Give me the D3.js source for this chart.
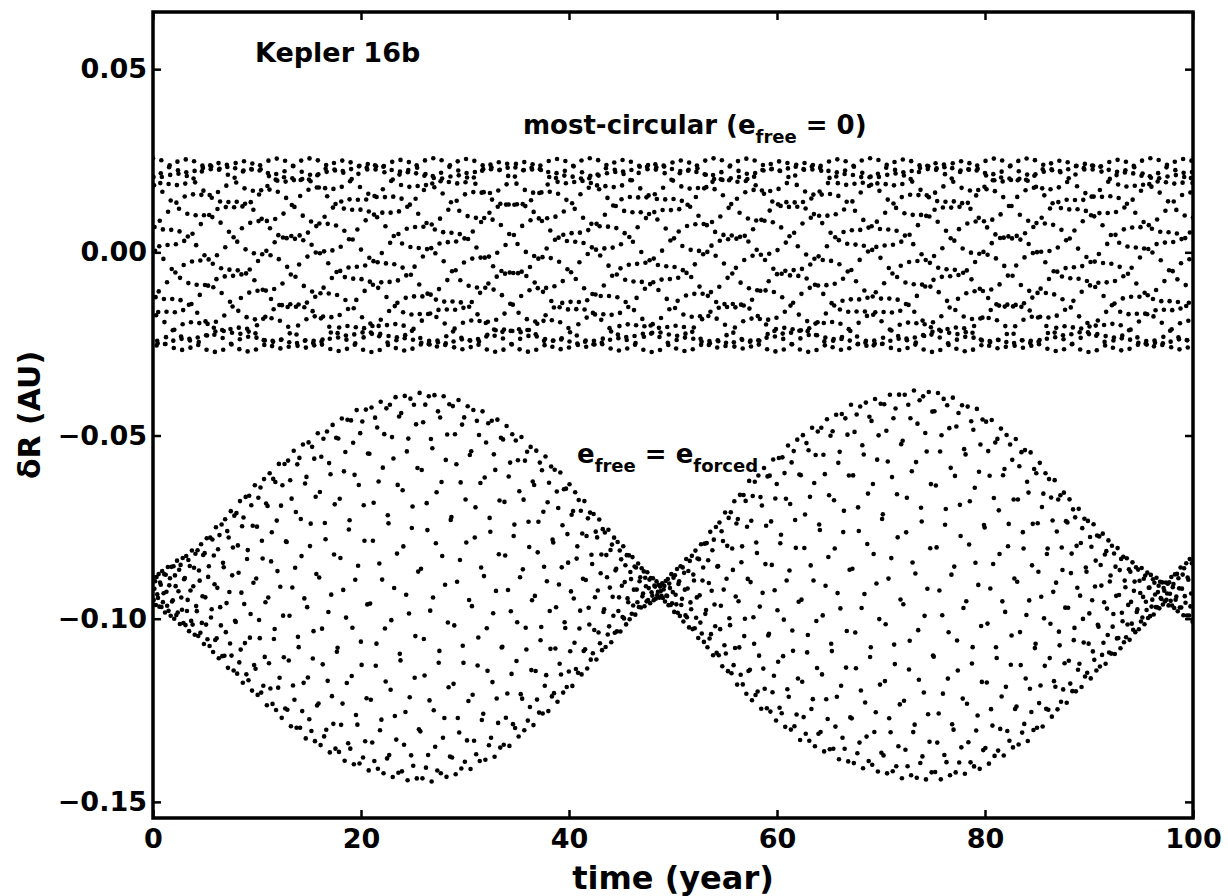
<!DOCTYPE html>
<html>
<head>
<meta charset="utf-8">
<script src="https://cdn.jsdelivr.net/npm/d3@7"></script>
<style>
  body { margin: 0; background: #fff; }
  text { font-family: "DejaVu Sans", sans-serif; font-weight: bold; fill: #000; }
  .tick-label { font-size: 27px; }
  .note { font-size: 26px; }
</style>
</head>
<body>
<div class="graphic"></div>
<script>
// axis ticks
const xTicks = [0, 20, 40, 60, 80, 100];
const yTicks = [-0.15, -0.10, -0.05, 0.00, 0.05];
const yTickLabels = ["\u22120.15", "\u22120.10", "\u22120.05", "0.00", "0.05"];

// sampling of the integration output (years)
const circStep = 0.05;
const forcedStep = 0.068;
const sampleEnd = 100;

// e_free = e_forced: envelope (AU)
const envTime  = [0, 4.5, 9.3, 14.1, 19, 23.75, 26.6, 29.5, 33.4, 38.2, 43, 46.8, 48.8,
                  52.6, 57.4, 62.2, 67, 71.8, 73.5, 75.7, 79.5, 84.3, 89.1, 93.9, 97.3, 100];
const envUpper = [-0.0886, -0.0799, -0.0648, -0.0526, -0.0436, -0.0389, -0.0381, -0.0403, -0.0458, -0.0567, -0.0731, -0.0853, -0.0908,
                  -0.0799, -0.0621, -0.0498, -0.0417, -0.0381, -0.0376, -0.0381, -0.0430, -0.0540, -0.0703, -0.0840, -0.0903, -0.0826];
const envLower = [-0.0957, -0.1058, -0.1194, -0.1317, -0.1399, -0.1440, -0.1446, -0.1425, -0.1370, -0.1250, -0.1100, -0.0975, -0.0941,
                  -0.1058, -0.1222, -0.1331, -0.1399, -0.1435, -0.1440, -0.1440, -0.1413, -0.1331, -0.1194, -0.1058, -0.0957, -0.1009];

// most-circular: band limits (AU)
const circTop = 0.0257;
const circBottom = -0.0272;
const circStrands = 16;     // strands seen in the band
const circDrift = 85;       // years for one strand to sweep the band
const circWiggle = 0.0016;  // small ripple on each strand (AU)
const circWigglePeriod = 6; // years

const width = 1228, height = 896;
const margin = {top: 12, right: 35, bottom: 78, left: 153};

const svg = d3.select(".graphic").append("svg")
    .attr("width", width)
    .attr("height", height);

const x = d3.scaleLinear().domain([0, 100]).range([margin.left, width - margin.right]);
const y = d3.scaleLinear().domain([-0.1544, 0.0656]).range([height - margin.bottom, margin.top]);

// build the two runs
let upperEnv = d3.scaleLinear().domain(envTime).range(envUpper);
let lowerEnv = d3.scaleLinear().domain(envTime).range(envLower);

let forced = d3.range(0, sampleEnd + 1e-9, forcedStep).map(function(t, n) {
    let mid = (upperEnv(t) + lowerEnv(t)) / 2;
    let half = (upperEnv(t) - lowerEnv(t)) / 2;
    let phase = 2 * Math.PI * n * 0.381966;
    return {t: t, v: mid + half * Math.cos(phase)};
});

let circular = d3.range(0, sampleEnd + 1e-9, circStep).map(function(t, n) {
    let mid = (circTop + circBottom) / 2;
    let half = (circTop - circBottom) / 2 - circWiggle;
    let a = 2 * Math.PI * n * (1 / circStrands + circStep / circDrift);
    let b = 2 * Math.PI * n * (0.5 + circStep / circWigglePeriod);
    return {t: t, v: mid + half * Math.cos(a) + circWiggle * Math.cos(b)};
});

svg.append("defs").append("clipPath").attr("id", "plot-clip")
  .append("rect")
    .attr("x", x(0)).attr("y", y.range()[1])
    .attr("width", x(100) - x(0)).attr("height", y.range()[0] - y.range()[1]);

let dots = svg.append("g").attr("clip-path", "url(#plot-clip)");

dots.selectAll("circle.circ")
    .data(circular)
    .enter().append("circle")
    .attr("class", "circ")
    .attr("cx", d => x(d.t))
    .attr("cy", d => y(d.v))
    .attr("r", 2.3)
    .attr("fill", "#000");

dots.selectAll("circle.forced")
    .data(forced)
    .enter().append("circle")
    .attr("class", "forced")
    .attr("cx", d => x(d.t))
    .attr("cy", d => y(d.v))
    .attr("r", 2.3)
    .attr("fill", "#000");

// axes, ticks point inward on all four sides
let tickLen = 8;
let x0 = x.range()[0], x1 = x.range()[1];
let y0 = y.range()[0], y1 = y.range()[1];

let xAxisB = d3.axisBottom(x).tickValues(xTicks).tickSize(-tickLen).tickPadding(11).tickFormat(d3.format("d"));
let xAxisT = d3.axisTop(x).tickValues(xTicks).tickSize(-tickLen).tickFormat("");
let yAxisL = d3.axisLeft(y).tickValues(yTicks).tickSize(-tickLen).tickPadding(6)
    .tickFormat((d, i) => yTickLabels[i]);
let yAxisR = d3.axisRight(y).tickValues(yTicks).tickSize(-tickLen).tickFormat("");

function styleAxis(g) {
    g.attr("font-size", null).attr("font-family", null);
    g.select(".domain").remove();
    g.selectAll(".tick line").attr("stroke", "#000").attr("stroke-width", 2.5);
    g.selectAll(".tick text").attr("class", "tick-label");
}

svg.append("g").attr("transform", "translate(0," + y0 + ")").call(xAxisB).call(styleAxis);
svg.append("g").attr("transform", "translate(0," + y1 + ")").call(xAxisT).call(styleAxis);
svg.append("g").attr("transform", "translate(" + x0 + ",0)").call(yAxisL).call(styleAxis);
svg.append("g").attr("transform", "translate(" + x1 + ",0)").call(yAxisR).call(styleAxis);

svg.append("rect")
    .attr("x", x0).attr("y", y1)
    .attr("width", x1 - x0).attr("height", y0 - y1)
    .attr("fill", "none").attr("stroke", "#000").attr("stroke-width", 3.5);

// axis titles
svg.append("text")
    .attr("x", (x0 + x1) / 2)
    .attr("y", 889)
    .attr("text-anchor", "middle")
    .attr("font-size", "32px")
    .text("time (year)");

svg.append("text")
    .attr("transform", "translate(40," + ((y0 + y1) / 2) + ") rotate(-90)")
    .attr("text-anchor", "middle")
    .attr("font-size", "30px")
    .text("\u03b4R (AU)");

// annotations
svg.append("text")
    .attr("x", 255).attr("y", 62)
    .attr("font-size", "27px")
    .text("Kepler 16b");

let t1 = svg.append("text").attr("class", "note").attr("x", 523).attr("y", 134);
t1.append("tspan").text("most-circular (e");
t1.append("tspan").attr("font-size", "18px").attr("dy", 9).text("free");
t1.append("tspan").attr("dy", -9).text(" = 0)");

let t2 = svg.append("text").attr("class", "note").attr("x", 577).attr("y", 463);
t2.append("tspan").text("e");
t2.append("tspan").attr("font-size", "18px").attr("dy", 9).text("free");
t2.append("tspan").attr("dy", -9).text(" = e");
t2.append("tspan").attr("font-size", "18px").attr("dy", 9).text("forced");
</script>
</body>
</html>
